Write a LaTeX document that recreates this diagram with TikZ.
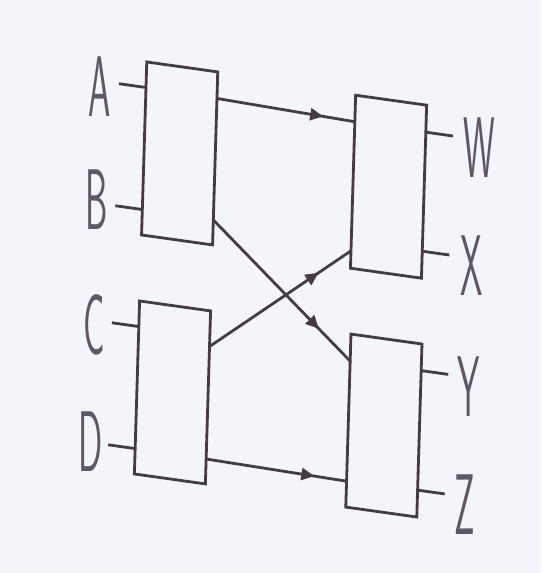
\documentclass[tikz,border=0pt]{standalone}
\usetikzlibrary{arrows.meta,decorations.markings}
\definecolor{ink}{RGB}{68,60,66}
\definecolor{paper}{RGB}{243,245,250}
\definecolor{letter}{RGB}{95,88,100}
\newcommand{\lettr}[1]{\scalebox{0.85}[2.05]{\fontsize{42}{42}\selectfont\sffamily #1}}
\tikzset{
  blk/.style={draw=ink, fill=paper, line width=2.8pt, minimum width=71pt,
    minimum height=173pt, inner sep=0pt, transform shape},
  wire/.style={draw=ink, line width=2.8pt},
  flow/.style={wire, postaction={decorate}, decoration={markings,
    mark=at position 0.77 with {\arrow[ink]{Triangle[length=13pt,width=12pt]}}}},
  lbl/.style={text=letter, inner sep=0pt}
}
\begin{document}
\begin{tikzpicture}[x=1pt,y=1pt]
\fill[paper] (0,0) rectangle (541,-573);
\useasboundingbox (0,0) rectangle (541,-573);
\begin{scope}[cm={1,-0.14,0.03,1,(8.7,39.2)}]
  \node[blk] (b1) at (176,-168) {};
  \node[blk] (b2) at (176,-407) {};
  \node[blk] (b3) at (385,-172) {};
  \node[blk] (b4) at (387.5,-410.5) {};
  % input ports and stub ends
  \coordinate (pA) at (140.5,-107);   \coordinate (sA) at (113.5,-107);
  \coordinate (pB) at (140.5,-229);   \coordinate (sB) at (113.5,-229);
  \coordinate (pC) at (140.5,-346);   \coordinate (sC) at (113.5,-346);
  \coordinate (pD) at (140.5,-468);   \coordinate (sD) at (113.5,-468);
  % output ports and stub ends
  \coordinate (pW) at (420.5,-112.5); \coordinate (sW) at (447.5,-112.5);
  \coordinate (pX) at (420.5,-231.5); \coordinate (sX) at (447.5,-231.5);
  \coordinate (pY) at (423,-350.5);   \coordinate (sY) at (450,-350.5);
  \coordinate (pZ) at (423,-470);     \coordinate (sZ) at (450,-470);
  % internal connection points
  \coordinate (o1a) at (211.5,-108);  \coordinate (i3a) at (349.5,-112);
  \coordinate (o1b) at (211.5,-229.5);\coordinate (i4a) at (352,-351);
  \coordinate (o2a) at (211.5,-356);  \coordinate (i3b) at (349.5,-241);
  \coordinate (o2b) at (211.5,-468.5);\coordinate (i4b) at (352,-471);
  \draw[wire] (sA) -- (pA);
  \draw[wire] (sB) -- (pB);
  \draw[wire] (sC) -- (pC);
  \draw[wire] (sD) -- (pD);
  \draw[wire] (pW) -- (sW);
  \draw[wire] (pX) -- (sX);
  \draw[wire] (pY) -- (sY);
  \draw[wire] (pZ) -- (sZ);
  \draw[flow] (o1a) -- (i3a);
  \draw[flow] (o1b) -- (i4a);
  \draw[flow] (o2a) -- (i3b);
  \draw[flow] (o2b) -- (i4b);
\end{scope}
\node[lbl] (lA) at (100,-87) {\lettr{A}};
\node[lbl] (lB) at (97,-200) {\lettr{B}};
\node[lbl] (lC) at (94,-325) {\lettr{C}};
\node[lbl] (lD) at (91,-442) {\lettr{D}};
\node[lbl] (lW) at (479,-148) {\lettr{W}};
\node[lbl] (lX) at (472,-266) {\lettr{X}};
\node[lbl] (lY) at (469,-387) {\lettr{Y}};
\node[lbl] (lZ) at (465,-505) {\lettr{Z}};
\end{tikzpicture}
\end{document}
